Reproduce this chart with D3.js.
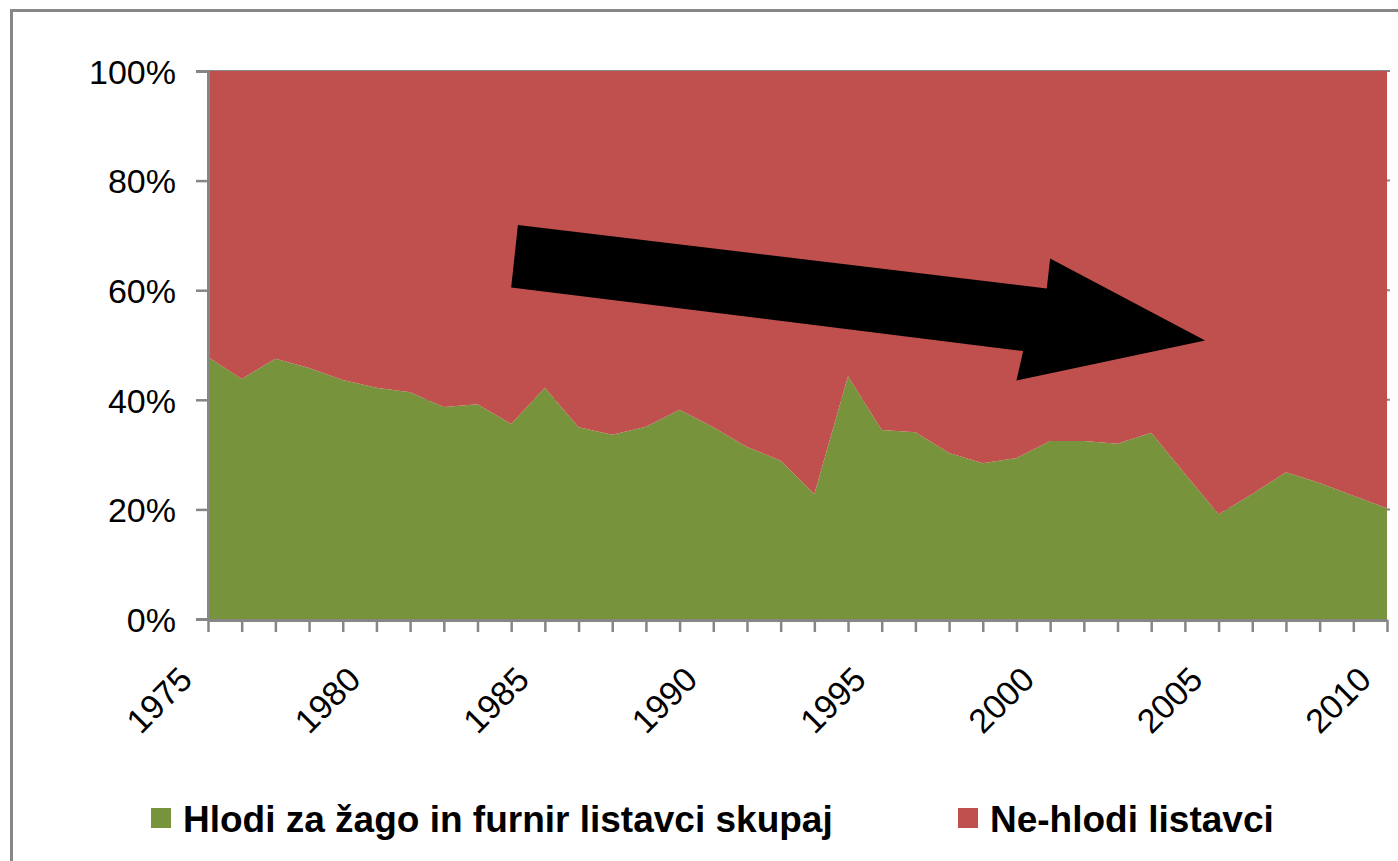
<!DOCTYPE html>
<meta charset="utf-8">
<style>

body {
  margin: 0;
  background: #fff;
}

svg {
  display: block;
  font-family: "Liberation Sans", Arial, sans-serif;
}

.axis path,
.axis line {
  stroke: #868686;
}

.axis text {
  fill: #000;
  font-size: 34px;
}

.legend text {
  font-size: 37px;
  font-weight: bold;
}

</style>
<body>
<script src="https://cdn.jsdelivr.net/npm/d3@7"></script>
<script>

var years = d3.range(1975, 2011);

// share of sawlogs and veneer logs (green), in %
var hlodi = [47.8, 43.8, 47.5, 45.8, 43.6, 42.2, 41.4, 38.7, 39.2, 35.6,
             42.2, 35.0, 33.6, 35.1, 38.2, 35.0, 31.4, 28.9, 22.8, 44.3,
             34.5, 34.1, 30.3, 28.4, 29.4, 32.5, 32.5, 32.0, 34.0, 26.5,
             19.1, 22.8, 26.8, 24.8, 22.5, 20.2];

// the rest (red), in %
var neHlodi = [52.2, 56.2, 52.5, 54.2, 56.4, 57.8, 58.6, 61.3, 60.8, 64.4,
               57.8, 65.0, 66.4, 64.9, 61.8, 65.0, 68.6, 71.1, 77.2, 55.7,
               65.5, 65.9, 69.7, 71.6, 70.6, 67.5, 67.5, 68.0, 66.0, 73.5,
               80.9, 77.2, 73.2, 75.2, 77.5, 79.8];

var seriesNames = ["Hlodi za žago in furnir listavci skupaj", "Ne-hlodi listavci"];
var colors = ["#77933c", "#c0504d"];

var yTicks = [0, 0.2, 0.4, 0.6, 0.8, 1];
var xLabelYears = [1975, 1980, 1985, 1990, 1995, 2000, 2005, 2010];

// trend arrow outline, in [year, share] units
var arrowShape = [[1984.2, 0.719], [1984.0, 0.605], [1999.2, 0.489], [1999.0, 0.435],
                  [2004.6, 0.508], [2000.0, 0.658], [1999.9, 0.603]];

var width = 1398,
    height = 861;

var svg = d3.select("body").append("svg")
    .attr("width", width)
    .attr("height", height);

// chart border
svg.append("rect")
    .attr("x", 11.5)
    .attr("y", 10.5)
    .attr("width", 1420)
    .attr("height", 900)
    .attr("fill", "none")
    .attr("stroke", "#878787")
    .attr("stroke-width", 3);

var x = d3.scaleLinear()
    .domain([1975, 2010])
    .range([208, 1387]);

var y = d3.scaleLinear()
    .domain([0, 1])
    .range([619, 71]);

var table = years.map(function(d, i) {
  return {year: d, a: hlodi[i], b: neHlodi[i]};
});

var stack = d3.stack()
    .keys(["a", "b"])
    .offset(d3.stackOffsetExpand);

var layers = stack(table);

// gridlines behind the areas
svg.append("g").selectAll("line")
    .data(yTicks.slice(1))
  .enter().append("line")
    .attr("x1", 208)
    .attr("x2", 1390)
    .attr("y1", function(d) { return y(d); })
    .attr("y2", function(d) { return y(d); })
    .attr("stroke", "#868686")
    .attr("stroke-width", 2);

var area = d3.area()
    .x(function(d) { return x(d.data.year); })
    .y0(function(d) { return y(d[0]); })
    .y1(function(d) { return y(d[1]); });

svg.append("g").selectAll("path")
    .data(layers)
  .enter().append("path")
    .attr("d", area)
    .attr("fill", function(d, i) { return colors[i]; });

// y axis
var yAxis = svg.append("g")
    .attr("class", "axis")
    .attr("transform", "translate(208,0)")
    .call(d3.axisLeft(y).tickValues(yTicks).tickSize(12).tickPadding(20).tickFormat(d3.format(".0%")));

yAxis.select(".domain").attr("stroke-width", 3);
yAxis.selectAll(".tick line").attr("stroke-width", 2.5);
yAxis.selectAll("text").attr("dy", "0.36em");

// x axis
var xAxis = svg.append("g")
    .attr("class", "axis")
    .attr("transform", "translate(0,620)")
    .call(d3.axisBottom(x).tickValues(years).tickSize(12).tickSizeOuter(0)
      .tickFormat(function(d) { return xLabelYears.indexOf(d) >= 0 ? d : ""; }));

xAxis.select(".domain").attr("stroke-width", 3);
xAxis.selectAll(".tick line").attr("stroke-width", 2.5);
xAxis.selectAll("text")
    .attr("x", 0)
    .attr("y", 0)
    .attr("dy", "0.36em")
    .attr("text-anchor", "end")
    .attr("transform", "translate(-23,53) rotate(-45)");

// trend arrow
svg.append("path")
    .attr("d", d3.line()
      .x(function(d) { return x(d[0]); })
      .y(function(d) { return y(d[1]); })
      .curve(d3.curveLinearClosed)(arrowShape))
    .attr("fill", "#000");

// legend
var legend = svg.append("g")
    .attr("class", "legend")
    .selectAll("g")
    .data(seriesNames)
  .enter().append("g")
    .attr("transform", function(d, i) { return "translate(" + [151, 958][i] + ",808)"; });

legend.append("rect")
    .attr("width", 20)
    .attr("height", 20)
    .attr("fill", function(d, i) { return colors[i]; });

legend.append("text")
    .attr("x", 32)
    .attr("y", 23.5)
    .text(function(d) { return d; });

</script>
